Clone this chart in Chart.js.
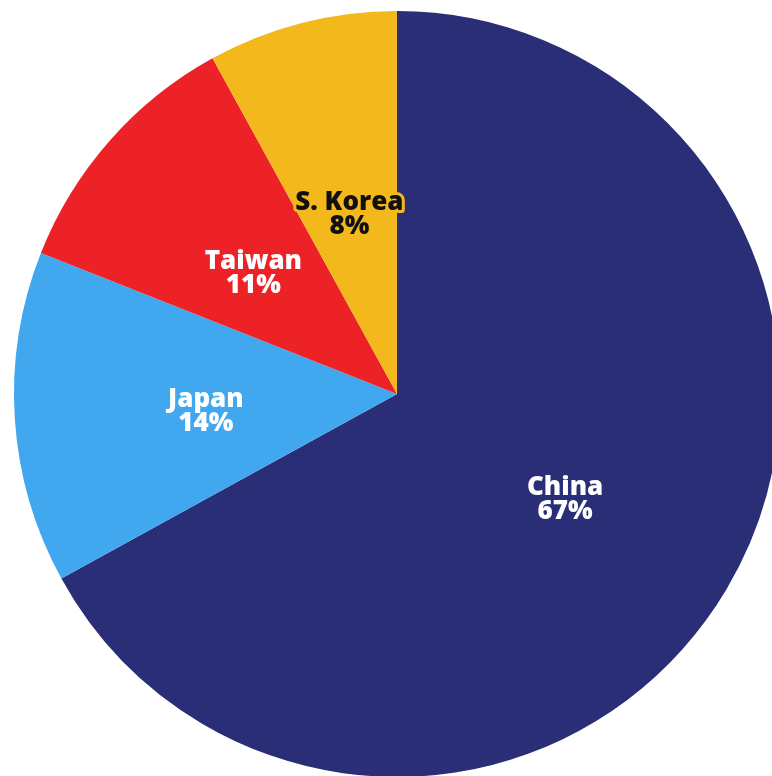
<!DOCTYPE html>
<html>
<head>
<meta charset="utf-8">
<script src="https://cdn.jsdelivr.net/npm/chart.js@4/dist/chart.umd.min.js"></script>
<style>
  html, body { margin: 0; padding: 0; background: #fff; overflow: hidden; }
  body { width: 772px; height: 776px; position: relative; }
  #wrap { position: absolute; left: 0; top: 0; width: 794px; height: 788px; }
</style>
</head>
<body>
<div id="wrap"><canvas id="shareChart"></canvas></div>
<script>
const countries = ["China", "Japan", "Taiwan", "S. Korea"];
const shares = [67, 14, 11, 8];
const sliceColors = ["#292e76", "#41a8f0", "#ec2227", "#f3b81b"];
const textColors = ["#ffffff", "#ffffff", "#ffffff", "#111111"];
const haloColors = [null, null, null, "#f3b81b"];

// Two-line labels (name + percent) placed inside each slice
const sliceLabels = {
  id: "sliceLabels",
  afterDatasetsDraw(chart) {
    const { ctx } = chart;
    const meta = chart.getDatasetMeta(0);
    ctx.save();
    ctx.font = "800 26px 'Open Sans', sans-serif";
    ctx.textAlign = "center";
    ctx.textBaseline = "middle";
    ctx.lineJoin = "round";
    meta.data.forEach((arc, i) => {
      const { startAngle, endAngle, outerRadius, x, y } = arc.getProps(
        ["startAngle", "endAngle", "outerRadius", "x", "y"], true);
      const mid = (startAngle + endAngle) / 2;
      const r = outerRadius * (i === 0 ? 0.51 : 0.5);
      const cx = x + Math.cos(mid) * r;
      const cy = y + Math.sin(mid) * r + 6;
      const lines = [countries[i], shares[i] + "%"];
      lines.forEach((t, j) => {
        const ty = cy + (j - 0.5) * 24;
        if (haloColors[i]) {
          ctx.strokeStyle = haloColors[i];
          ctx.lineWidth = 6;
          ctx.strokeText(t, cx, ty);
        }
        ctx.fillStyle = textColors[i];
        ctx.fillText(t, cx, ty);
      });
    });
    ctx.restore();
  }
};

new Chart(document.getElementById("shareChart"), {
  type: "pie",
  data: {
    labels: countries,
    datasets: [{
      data: shares,
      backgroundColor: sliceColors,
      borderWidth: 0
    }]
  },
  options: {
    responsive: true,
    maintainAspectRatio: false,
    animation: false,
    layout: { padding: 11 },
    plugins: {
      legend: { display: false },
      tooltip: { enabled: false }
    }
  },
  plugins: [sliceLabels]
});
</script>
</body>
</html>
